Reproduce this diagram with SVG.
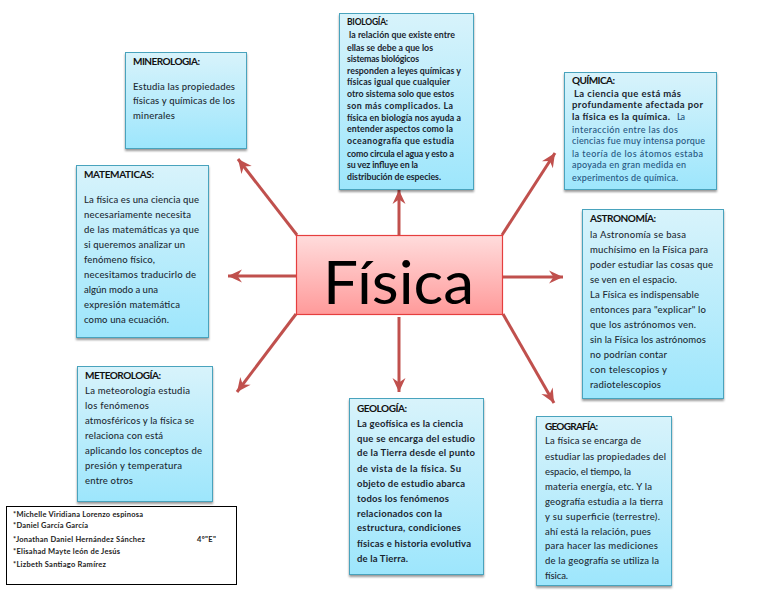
<svg xmlns="http://www.w3.org/2000/svg" width="768" height="594" viewBox="0 0 768 594">
<style>
text{font-family:Lato,"Liberation Sans",sans-serif;font-size:9.5px;fill:#1c2a33;font-weight:500}
.t{font-weight:700;font-size:10px;fill:#111}
.b{font-weight:700;fill:#1a2530}
.s{font-size:8.8px}
.q{fill:#25557f;font-size:9px}
.n{font-size:7.5px;font-weight:700;fill:#222}
.box{fill:url(#blue);stroke:#4aa3bd;stroke-width:1;filter:url(#sh)}
.ar{fill:none;stroke:#c0504d;stroke-width:3;marker-end:url(#head)}
</style>
<defs>
<linearGradient id="blue" x1="0" y1="0" x2="0" y2="1"><stop offset="0" stop-color="#d8f3fb"/><stop offset="1" stop-color="#9de6fc"/></linearGradient>
<linearGradient id="red" x1="0" y1="0" x2="0" y2="1"><stop offset="0" stop-color="#ffdcdc"/><stop offset="1" stop-color="#ff9a9a"/></linearGradient>
<filter id="sh" x="-10%" y="-10%" width="120%" height="120%"><feDropShadow dx="0" dy="2" stdDeviation="1.2" flood-color="#000" flood-opacity="0.4"/></filter>
<marker id="head" markerUnits="userSpaceOnUse" markerWidth="20" markerHeight="20" refX="16" refY="9" orient="auto"><path d="M2 2.500L16 9L2 15.500L6.500 9Z" fill="#c0504d"/></marker>
</defs>
<g id="connectors">
<line class="ar" x1="399" y1="235" x2="399" y2="190"/>
<line class="ar" x1="502" y1="235" x2="555" y2="153"/>
<line class="ar" x1="503" y1="277" x2="563" y2="277"/>
<line class="ar" x1="503" y1="314" x2="554" y2="403"/>
<line class="ar" x1="399" y1="317" x2="399" y2="392"/>
<line class="ar" x1="296" y1="314" x2="237" y2="392"/>
<line class="ar" x1="296" y1="276" x2="228" y2="276"/>
<line class="ar" x1="297" y1="235" x2="238" y2="159"/>
</g>
<g id="fisica">
<rect x="296.500" y="235.500" width="206" height="79" fill="url(#red)" stroke="#e53e3e" stroke-width="1.200"/>
<text x="323" y="304" style="font-size:60px;font-weight:400;fill:#000" textLength="151" lengthAdjust="spacingAndGlyphs">Física</text>
</g>
<g id="biologia">
<rect class="box" x="339.500" y="13.500" width="134" height="176"/>
<text class="t" style="font-size:8.500px" x="347" y="25" textLength="41">BIOLOGÍA:</text>
<text class="b s" x="349" y="38" textLength="106">la relación que existe entre</text>
<text class="b s" x="347" y="51" textLength="86">ellas se debe a que los</text>
<text class="b s" x="347" y="62" textLength="72">sistemas biológicos</text>
<text class="b s" x="347" y="74" textLength="114">responden a leyes químicas y</text>
<text class="b s" x="347" y="85" textLength="103">físicas igual que cualquier</text>
<text class="b s" x="347" y="97" textLength="107">otro sistema solo que estos</text>
<text class="b s" x="347" y="109" textLength="106">son más complicados. La</text>
<text class="b s" x="347" y="121" textLength="114">física en biología nos ayuda a</text>
<text class="b s" x="347" y="132" textLength="106">entender aspectos como la</text>
<text class="b s" x="347" y="144" textLength="107">oceanografía que estudia</text>
<text class="b s" x="347" y="157" textLength="107">como circula el agua y esto a</text>
<text class="b s" x="347" y="168" textLength="71">su vez influye en la</text>
<text class="b s" x="347" y="180" textLength="94">distribución de especies.</text>
</g>
<g id="minerologia">
<rect class="box" x="125.500" y="52.500" width="121" height="96"/>
<text class="t" x="133" y="65" textLength="67">MINEROLOGIA:</text>
<text x="133" y="90" textLength="102">Estudia las propiedades</text>
<text x="133" y="104" textLength="102">físicas y químicas de los</text>
<text x="133" y="119" textLength="42">minerales</text>
</g>
<g id="quimica">
<rect class="box" x="564.500" y="72.500" width="152" height="117"/>
<text class="t" x="572" y="84" textLength="43">QUÍMICA:</text>
<text class="b" x="574" y="97" textLength="107">La ciencia que está más</text>
<text class="b" x="572" y="108" textLength="131">profundamente afectada por</text>
<text class="b" x="572" y="120" textLength="98">la física es la química.</text>
<text class="q" x="677" y="120" textLength="8">La</text>
<text class="q" x="572" y="133" textLength="106">interacción entre las dos</text>
<text class="q" x="572" y="144" textLength="133">ciencias fue muy intensa porque</text>
<text class="q" x="572" y="157" textLength="131">la teoría de los átomos estaba</text>
<text class="q" x="572" y="168" textLength="114">apoyada en gran medida en</text>
<text class="q" x="572" y="181" textLength="106">experimentos de química.</text>
</g>
<g id="astronomia">
<rect class="box" x="582.500" y="209.500" width="141" height="189"/>
<text class="t" x="590" y="222" textLength="66">ASTRONOMÍA:</text>
<text x="590" y="238" textLength="96">la Astronomía se basa</text>
<text x="590" y="253" textLength="118">muchísimo en la Física para</text>
<text x="590" y="268" textLength="123">poder estudiar las cosas que</text>
<text x="590" y="283" textLength="87">se ven en el espacio.</text>
<text x="590" y="298" textLength="109">La Física es indispensable</text>
<text x="590" y="313" textLength="116">entonces para "explicar" lo</text>
<text x="590" y="328" textLength="106">que los astrónomos ven.</text>
<text x="590" y="343" textLength="116">sin la Física los astrónomos</text>
<text x="590" y="358" textLength="77">no podrían contar</text>
<text x="590" y="373" textLength="77">con  telescopios y</text>
<text x="590" y="388" textLength="71">radiotelescopios</text>
</g>
<g id="matematicas">
<rect class="box" x="76.500" y="165.500" width="132" height="172"/>
<text class="t" x="84" y="178" textLength="70">MATEMATICAS:</text>
<text x="84" y="203" textLength="115">La física es una ciencia que</text>
<text x="84" y="218" textLength="107">necesariamente necesita</text>
<text x="84" y="233" textLength="115">de las matemáticas ya que</text>
<text x="84" y="248" textLength="101">si queremos analizar un</text>
<text x="84" y="263" textLength="71">fenómeno físico,</text>
<text x="84" y="278" textLength="112">necesitamos traducirlo de</text>
<text x="84" y="293" textLength="74">algún modo a una</text>
<text x="84" y="308" textLength="96">expresión matemática</text>
<text x="84" y="323" textLength="85">como una ecuación.</text>
</g>
<g id="meteorologia">
<rect class="box" x="77.500" y="366.500" width="135" height="135"/>
<text class="t" x="85" y="379" textLength="76">METEOROLOGÍA:</text>
<text x="85" y="394" textLength="105">La meteorología estudia</text>
<text x="85" y="409" textLength="64">los fenómenos</text>
<text x="85" y="424" textLength="109">atmosféricos y la física se</text>
<text x="85" y="439" textLength="78">relaciona con está</text>
<text x="85" y="454" textLength="117">aplicando los conceptos de</text>
<text x="85" y="469" textLength="97">presión y temperatura</text>
<text x="85" y="484" textLength="48">entre otros</text>
</g>
<g id="geologia">
<rect class="box" x="349.500" y="398.500" width="134" height="176"/>
<text class="t" x="357" y="412" textLength="50">GEOLOGÍA:</text>
<text class="b" x="357" y="427" textLength="106">La geofísica es la ciencia</text>
<text class="b" x="357" y="442" textLength="118">que se encarga del estudio</text>
<text class="b" x="357" y="456" textLength="118">de la Tierra desde el punto</text>
<text class="b" x="357" y="472" textLength="104">de vista de la física. Su</text>
<text class="b" x="357" y="487" textLength="108">objeto de estudio abarca</text>
<text class="b" x="357" y="502" textLength="92">todos los fenómenos</text>
<text class="b" x="357" y="517" textLength="85">relacionados con la</text>
<text class="b" x="357" y="531" textLength="104">estructura, condiciones</text>
<text class="b" x="357" y="547" textLength="114">físicas e historia evolutiva</text>
<text class="b" x="357" y="562" textLength="51">de la Tierra.</text>
</g>
<g id="geografia">
<rect class="box" x="536.500" y="416.500" width="135" height="169"/>
<text class="t" x="545" y="430" textLength="53">GEOGRAFÍA:</text>
<text x="545" y="444" textLength="96">La física se encarga de</text>
<text x="545" y="460" textLength="121">estudiar las propiedades del</text>
<text x="545" y="475" textLength="86">espacio, el tiempo, la</text>
<text x="545" y="490" textLength="107">materia energía, etc. Y la</text>
<text x="545" y="505" textLength="118">geografía estudia a la tierra</text>
<text x="545" y="520" textLength="115">y su superficie (terrestre).</text>
<text x="545" y="535" textLength="106">ahí está la relación, pues</text>
<text x="545" y="549" textLength="113">para hacer las mediciones</text>
<text x="545" y="564" textLength="114">de la geografía se utiliza la</text>
<text x="545" y="579" textLength="23">física.</text>
</g>
<g id="autores">
<rect x="6.500" y="506.500" width="230" height="78" fill="#fff" stroke="#000" stroke-width="1"/>
<text class="n" x="13" y="517" textLength="130">*Michelle Viridiana Lorenzo espinosa</text>
<text class="n" x="13" y="528" textLength="75">*Daniel García García</text>
<text class="n" x="13" y="542" textLength="132">*Jonathan Daniel Hernández Sánchez</text>
<text class="n" x="197" y="542" textLength="19">4º"E"</text>
<text class="n" x="13" y="554" textLength="107">*Elisahad Mayte león de Jesús</text>
<text class="n" x="13" y="567" textLength="93">*Lizbeth Santiago Ramírez</text>
</g>
</svg>
